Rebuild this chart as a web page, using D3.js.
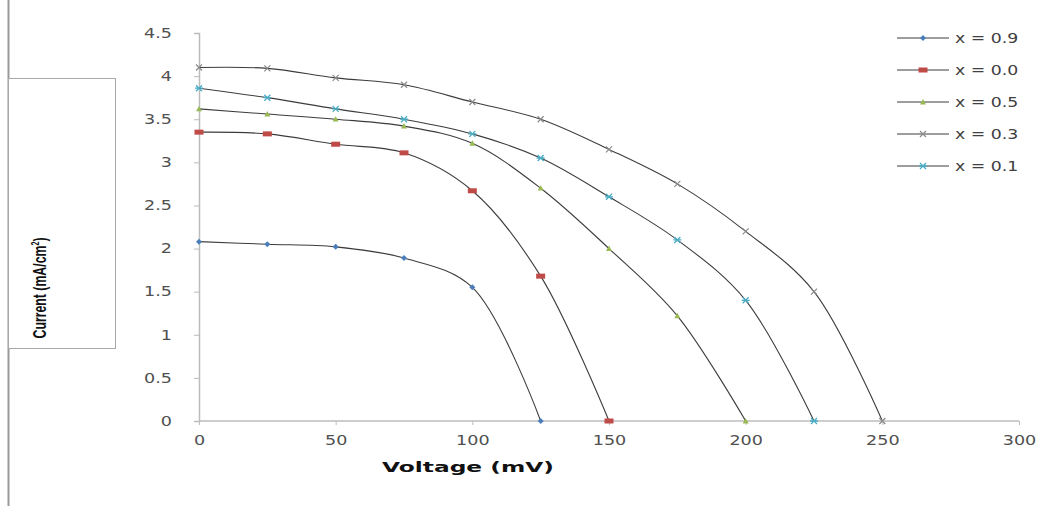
<!DOCTYPE html>
<html>
<head>
<meta charset="utf-8">
<script src="https://cdn.jsdelivr.net/npm/d3@7/dist/d3.min.js"></script>
<style>
  html, body { margin: 0; padding: 0; background: #fff; }
  svg { display: block; }
</style>
</head>
<body>
<svg id="chart" width="1061" height="506"></svg>
<script>
// ---- data ----
const voltage = [0, 25, 50, 75, 100, 125, 150, 175, 200, 225, 250];
const seriesNames = ["x = 0.9", "x = 0.0", "x = 0.5", "x = 0.3", "x = 0.1"];
const s09 = [2.08, 2.05, 2.02, 1.89, 1.55, 0];
const s00 = [3.35, 3.33, 3.21, 3.11, 2.67, 1.68, 0];
const s05 = [3.62, 3.56, 3.50, 3.42, 3.22, 2.70, 2.00, 1.22, 0];
const s03 = [4.10, 4.09, 3.98, 3.90, 3.70, 3.50, 3.15, 2.75, 2.20, 1.50, 0];
const s01 = [3.86, 3.75, 3.62, 3.50, 3.33, 3.05, 2.60, 2.10, 1.40, 0];
const xTicks = [0, 50, 100, 150, 200, 250, 300];
const yTicks = [0, 0.5, 1, 1.5, 2, 2.5, 3, 3.5, 4, 4.5];

const seriesValues = [s09, s00, s05, s03, s01];
const markerColors = ["#4a7ebb", "#be4b48", "#98b954", "#8a8a8a", "#4bacc6"];
const markerTypes = ["diamond", "rect", "triangle", "cross", "star"];

const svg = d3.select("#chart");
const x = d3.scaleLinear().domain([0, 300]).range([199, 1019]);
const y = d3.scaleLinear().domain([0, 4.5]).range([421, 33]);

function stretch(sel, k) {
  sel.each(function () {
    const w = this.getComputedTextLength();
    d3.select(this).attr("textLength", w * k).attr("lengthAdjust", "spacingAndGlyphs");
  });
}

// left frame line and box
svg.append("line").attr("x1", 8.5).attr("x2", 8.5).attr("y1", 0).attr("y2", 506)
  .attr("stroke", "#9a9a9a").attr("stroke-width", 2);
svg.append("rect").attr("x", 8.5).attr("y", 78.5).attr("width", 107).attr("height", 270)
  .attr("fill", "#fff").attr("stroke", "#a8a8a8").attr("stroke-width", 1);

// axes
const xAxis = d3.axisBottom(x).tickValues(xTicks).tickSize(4).tickPadding(8);
const yAxis = d3.axisLeft(y).tickValues(yTicks).tickSize(5).tickPadding(22)
  .tickFormat(d => String(d));

const gx = svg.append("g").attr("transform", "translate(0,421)").call(xAxis);
const gy = svg.append("g").attr("transform", "translate(199,0)").call(yAxis);
[gx, gy].forEach(g => {
  g.select(".domain").attr("stroke", "#bcbcbc").attr("stroke-width", 1.5);
  g.selectAll(".tick line").attr("stroke", "#bcbcbc");
  g.selectAll(".tick text").attr("fill", "#505050")
    .style("font-family", "'DejaVu Sans', Verdana, sans-serif").style("font-size", "13.5px");
  stretch(g.selectAll(".tick text"), 1.3);
});
gx.select(".domain").attr("d", "M199,0H1019");
gx.selectAll(".tick text").attr("dy", "0.9em");

// axis titles
svg.append("text").attr("x", 468).attr("y", 472).attr("text-anchor", "middle")
  .attr("textLength", 172).attr("lengthAdjust", "spacingAndGlyphs")
  .style("font-family", "'DejaVu Sans', Verdana, sans-serif").style("font-weight", "bold")
  .style("font-size", "14px").attr("fill", "#111").text("Voltage (mV)");

const yt = svg.append("text").attr("transform", "translate(46,288) rotate(-90)")
  .attr("text-anchor", "middle")
  .style("font-family", "'Liberation Sans Narrow', 'Arial Narrow', 'Liberation Sans', sans-serif")
  .style("font-weight", "bold").style("font-size", "19px").attr("fill", "#111")
  .attr("textLength", 101).attr("lengthAdjust", "spacingAndGlyphs");
yt.append("tspan").text("Current (mA/cm");
yt.append("tspan").attr("dy", -7).style("font-size", "11px").text("2");
yt.append("tspan").attr("dy", 7).text(")");

// marker drawing
function drawMarker(g, type, color, cx, cy, s) {
  if (type === "diamond") {
    g.append("path").attr("d", `M${cx},${cy - s}L${cx + s},${cy}L${cx},${cy + s}L${cx - s},${cy}Z`)
      .attr("fill", color);
  } else if (type === "rect") {
    g.append("rect").attr("x", cx - 4.5).attr("y", cy - 2.5).attr("width", 9).attr("height", 5)
      .attr("fill", color);
  } else if (type === "triangle") {
    g.append("path").attr("d", `M${cx},${cy - s}L${cx + s},${cy + s * 0.8}L${cx - s},${cy + s * 0.8}Z`)
      .attr("fill", color);
  } else if (type === "cross") {
    g.append("path").attr("d", `M${cx - 3},${cy - 3}L${cx + 3},${cy + 3}M${cx - 3},${cy + 3}L${cx + 3},${cy - 3}`)
      .attr("stroke", color).attr("stroke-width", 1.2);
  } else if (type === "star") {
    g.append("path").attr("d", `M${cx - 4},${cy}L${cx + 4},${cy}M${cx - 3},${cy - 3}L${cx + 3},${cy + 3}M${cx - 3},${cy + 3}L${cx + 3},${cy - 3}`)
      .attr("stroke", color).attr("stroke-width", 1.3);
  }
}

const line = d3.line().x(d => x(d[0])).y(d => y(d[1])).curve(d3.curveCatmullRom.alpha(0.5));

seriesValues.forEach((vals, i) => {
  const pts = vals.map((v, j) => [voltage[j], v]);
  svg.append("path").datum(pts).attr("d", line).attr("fill", "none")
    .attr("stroke", "#3c3c3c").attr("stroke-width", 1.1);
  const g = svg.append("g");
  pts.forEach(p => drawMarker(g, markerTypes[i], markerColors[i], x(p[0]), y(p[1]), 3));
});

// legend
const legY = [38, 70, 102, 134, 166];
seriesNames.forEach((name, i) => {
  const g = svg.append("g");
  g.append("line").attr("x1", 897).attr("x2", 949).attr("y1", legY[i]).attr("y2", legY[i])
    .attr("stroke", "#3c3c3c").attr("stroke-width", 1.1);
  drawMarker(g, markerTypes[i], markerColors[i], 923, legY[i], 3);
  const t = g.append("text").attr("x", 955).attr("y", legY[i]).attr("dy", "0.35em")
    .style("font-family", "'DejaVu Sans', Verdana, sans-serif").style("font-size", "13.5px")
    .attr("fill", "#404040").text(name);
  stretch(t, 1.28);
});
</script>
</body>
</html>
